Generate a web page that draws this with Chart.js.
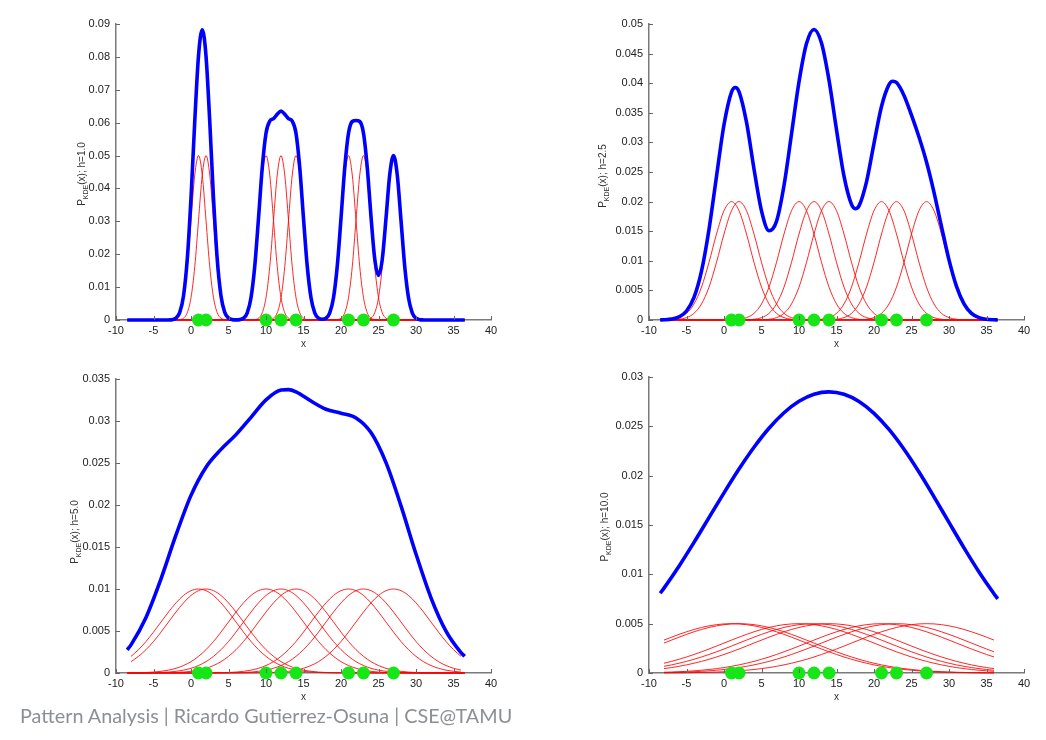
<!DOCTYPE html>
<html>
<head>
<meta charset="utf-8">
<script src="https://cdn.jsdelivr.net/npm/chart.js@4.4.1/dist/chart.umd.min.js"></script>
<style>
  html, body { margin:0; padding:0; background:#fff; }
  body { width:1046px; height:740px; position:relative; overflow:hidden; font-family:"Liberation Sans", Arial, sans-serif; }
  canvas { position:absolute; }
  .ytitle { position:absolute; white-space:nowrap; font-size:10px; color:#333; transform:translate(-50%,-50%) rotate(-90deg); line-height:12px; }
  .ytitle sub { font-size:7px; vertical-align:-3px; }
  #footer { position:absolute; left:20px; top:703px; font-family:Lato, "Open Sans", sans-serif; font-size:20px; line-height:24px; color:#8c8f93; white-space:nowrap; transform-origin:0 0; }
</style>
</head>
<body>
<canvas id="c1"></canvas>
<canvas id="c2"></canvas>
<canvas id="c3"></canvas>
<canvas id="c4"></canvas>
<div class="ytitle" id="t1">P<sub>KDE</sub>(x); h=1.0</div>
<div class="ytitle" id="t2">P<sub>KDE</sub>(x); h=2.5</div>
<div class="ytitle" id="t3">P<sub>KDE</sub>(x); h=5.0</div>
<div class="ytitle" id="t4">P<sub>KDE</sub>(x); h=10.0</div>
<div id="footer">Pattern Analysis | Ricardo Gutierrez-Osuna | CSE@TAMU</div>
<script>
// ---------- data ----------
const samples = [1, 2, 10, 12, 14, 21, 23, 27];
const xTicks = [-10, -5, 0, 5, 10, 15, 20, 25, 30, 35, 40];
const bandwidths = ['1.0', '2.5', '5.0', '10.0'];

// h = 1.0 : summed estimate
const xBlue1 = [-8.5, -3.5, -3, -2.5, -2, -1.5, -1, -0.5, 0, 0.5, 1, 1.5, 2, 2.5, 3, 3.5, 4, 4.5, 5, 5.5, 6, 6.5, 7, 7.5, 8, 8.5, 9, 9.5, 10, 10.5, 11, 11.5, 12, 12.5, 13, 13.5, 14, 14.5, 15, 15.5, 16, 16.5, 17, 17.5, 18, 18.5, 19, 19.5, 20, 20.5, 21, 21.5, 22, 22.5, 23, 23.5, 24, 24.5, 25, 25.5, 26, 26.5, 27, 27.5, 28, 28.5, 29, 29.5, 30, 30.5, 31, 31.5, 36.5];
const yBlue1 = [0, 0, 0.00002, 0.00011, 0.00058, 0.00231, 0.00733, 0.01843, 0.0371, 0.06035, 0.08033, 0.08824, 0.08033, 0.06035, 0.0371, 0.01843, 0.00733, 0.00231, 0.00058, 0.00011, 0.00004, 0.00011, 0.00056, 0.0022, 0.00679, 0.01634, 0.03089, 0.04632, 0.05679, 0.06046, 0.06122, 0.06255, 0.06354, 0.06255, 0.06122, 0.06046, 0.05679, 0.04632, 0.03089, 0.01634, 0.00679, 0.0022, 0.00058, 0.00022, 0.00058, 0.0022, 0.00679, 0.01634, 0.03089, 0.04632, 0.05677, 0.06035, 0.06066, 0.06035, 0.05679, 0.04643, 0.03145, 0.01854, 0.01356, 0.01843, 0.03089, 0.04423, 0.05002, 0.04412, 0.03033, 0.01623, 0.00677, 0.0022, 0.00056, 0.00011, 0.00002, 0, 0];

// h = 2.5
const xBlue2 = [-8.5, -8, -7, -6, -5, -4, -3, -2, -1, 0, 1, 1.5, 2, 3, 4, 5, 6, 7, 8, 9, 10, 11, 12, 13, 14, 15, 16, 17, 17.5, 18, 19, 20, 21, 22, 22.5, 23, 24, 25, 26, 27, 28, 29, 30, 31, 32, 33, 34, 35, 36, 36.5];
const yBlue2 = [0.00002, 0.00004, 0.00015, 0.00052, 0.00152, 0.00383, 0.00827, 0.0153, 0.02426, 0.03299, 0.0385, 0.03927, 0.03859, 0.03341, 0.02551, 0.01843, 0.01507, 0.01667, 0.02273, 0.03142, 0.04023, 0.0467, 0.04908, 0.04679, 0.04051, 0.03215, 0.02431, 0.01953, 0.0188, 0.01928, 0.02334, 0.02984, 0.03607, 0.03976, 0.04033, 0.04011, 0.03794, 0.03461, 0.0309, 0.02668, 0.02157, 0.01577, 0.01016, 0.00569, 0.00274, 0.00113, 0.0004, 0.00012, 0.00003, 0.00001];

// h = 5.0
const xBlue3 = [-8.5, -8, -6, -4, -2, 0, 2, 4, 6, 8, 10, 12, 13, 14, 16, 18, 20, 22, 24, 26, 28, 30, 32, 34, 36, 36.5];
const yBlue3 = [0.00276, 0.003352, 0.006612, 0.011206, 0.016434, 0.021148, 0.024506, 0.026624, 0.02838, 0.03044, 0.032513, 0.033684, 0.033739, 0.033467, 0.032377, 0.031397, 0.030932, 0.030369, 0.028621, 0.02504, 0.019894, 0.014163, 0.008953, 0.004987, 0.002431, 0.001988];

// h = 10.0
const xBlue4 = [-8.5, -8, -6, -4, -2, 0, 2, 4, 6, 8, 10, 12, 14, 16, 18, 20, 22, 24, 26, 28, 30, 32, 34, 36, 36.5];
const yBlue4 = [0.008087, 0.008605, 0.010827, 0.013236, 0.015745, 0.018256, 0.020666, 0.022877, 0.024804, 0.026376, 0.027539, 0.028254, 0.028494, 0.028249, 0.027519, 0.02632, 0.024688, 0.022678, 0.020368, 0.017858, 0.015259, 0.012685, 0.010245, 0.008028, 0.007516];

// single-kernel profiles (height at offsets 0, step, 2*step, ... from a sample)
const kernelStep = [0.5, 1, 1, 1];
const kernel1 = [0.05, 0.0441, 0.0303, 0.0162, 0.0068, 0.0022, 0.00056, 0.00011, 0.00002];
const kernel2 = [0.02, 0.01846, 0.01452, 0.00974, 0.00556, 0.00271, 0.00112, 0.0004, 0.00012, 0.00003, 0.00001, 0];
const kernel3 = [0.01, 0.0098, 0.00923, 0.00835, 0.00726, 0.00607, 0.00487, 0.00375, 0.00278, 0.00198, 0.00135, 0.00089, 0.00056, 0.00034, 0.0002, 0.00011, 0.00006, 0.00003, 0.00002, 0.00001, 0];
const kernel4 = [0.005, 0.004975, 0.004901, 0.00478, 0.004616, 0.004413, 0.004176, 0.003914, 0.003631, 0.003335, 0.003033, 0.00273, 0.002434, 0.002148, 0.001877, 0.001623, 0.00139, 0.001179, 0.00099, 0.000822, 0.000677, 0.000551, 0.000445, 0.000355, 0.000281, 0.00022, 0.00017, 0.000131, 0.000099, 0.000075, 0.000056, 0.000041, 0.00003, 0.000022, 0.000015, 0.000011, 0.000008];

const yMax = [0.09, 0.05, 0.035, 0.03];
const yStep = [0.01, 0.005, 0.005, 0.005];
const xRange = [-8.5, 36.5];

// ---------- layout ----------
const panels = [
  { id:'c1', l:116, t:24,  r:491,  b:320, tx:84,  ty:174 },
  { id:'c2', l:649, t:24,  r:1024, b:320, tx:605, ty:176 },
  { id:'c3', l:116, t:379, r:491,  b:673, tx:77,  ty:532 },
  { id:'c4', l:649, t:377, r:1024, b:673, tx:607, ty:527 }
];
const PADL = 70, PADT = 14, PADR = 16, PADB = 40;

const pairs = (xs, ys) => xs.map((x, i) => ({ x, y: ys[i] }));

function kernelCurve(center, prof, step) {
  const n = prof.length;
  const pts = [];
  for (let k = -(n - 1); k <= n - 1; k++) {
    const x = center + k * step;
    if (x < xRange[0] || x > xRange[1]) continue;
    pts.push({ x, y: prof[Math.abs(k)] });
  }
  // profile fully decayed before the edge: carry its flat tail to the edge
  if (center - (n - 1) * step > xRange[0]) pts.unshift({ x: xRange[0], y: prof[n - 1] });
  if (center + (n - 1) * step < xRange[1]) pts.push({ x: xRange[1], y: prof[n - 1] });
  return pts;
}

const inTicks = {
  id: 'inTicks',
  afterDatasetsDraw(chart) {
    const { ctx, chartArea: a, scales: { x, y } } = chart;
    ctx.save();
    ctx.strokeStyle = '#666';
    ctx.lineWidth = 1;
    ctx.beginPath();
    x.ticks.forEach(t => { const p = Math.round(x.getPixelForValue(t.value)) + 0.5; ctx.moveTo(p, a.bottom); ctx.lineTo(p, a.bottom - 4); });
    y.ticks.forEach(t => { const p = Math.round(y.getPixelForValue(t.value)) + 0.5; ctx.moveTo(a.left, p); ctx.lineTo(a.left + 4, p); });
    ctx.stroke();
    ctx.restore();
  }
};

const blues = [pairs(xBlue1, yBlue1), pairs(xBlue2, yBlue2), pairs(xBlue3, yBlue3), pairs(xBlue4, yBlue4)];
const kernels = [kernel1, kernel2, kernel3, kernel4];

panels.forEach((p, i) => {
  const cv = document.getElementById(p.id);
  const w = (p.r - p.l) + PADL + PADR, h = (p.b - p.t) + PADT + PADB;
  cv.width = w; cv.height = h;
  cv.style.width = w + 'px'; cv.style.height = h + 'px';
  cv.style.left = (p.l - PADL) + 'px'; cv.style.top = (p.t - PADT) + 'px';

  const t = document.getElementById('t' + (i + 1));
  t.style.left = p.tx + 'px'; t.style.top = p.ty + 'px';

  const datasets = [];
  datasets.push({
    data: samples.map(s => ({ x: s, y: 0 })),
    showLine: false, pointRadius: 6.5, pointHoverRadius: 6.5,
    pointBackgroundColor: '#16e616', pointBorderColor: '#16e616', pointBorderWidth: 0, clip: false
  });
  datasets.push({
    data: blues[i], showLine: true, pointRadius: 0, borderColor: '#0000ff', borderWidth: 3.6,
    cubicInterpolationMode: 'monotone', clip: false
  });
  samples.forEach(s => {
    datasets.push({
      data: kernelCurve(s, kernels[i], kernelStep[i]), showLine: true, pointRadius: 0,
      borderColor: 'rgba(255,0,0,0.85)', borderWidth: 1, cubicInterpolationMode: 'monotone', clip: false
    });
  });

  new Chart(cv, {
    type: 'scatter',
    data: { datasets },
    plugins: [inTicks],
    options: {
      responsive: false, animation: false, devicePixelRatio: 1,
      layout: { padding: { left: 0, top: PADT, right: PADR, bottom: 0 } },
      plugins: { legend: { display: false }, tooltip: { enabled: false } },
      events: [],
      scales: {
        x: {
          type: 'linear', min: xTicks[0], max: xTicks[xTicks.length - 1],
          afterBuildTicks: sc => { sc.ticks = xTicks.map(v => ({ value: v })); },
          ticks: { autoSkip: false, padding: 4, color: '#222', font: { family: 'Liberation Sans', size: 11 }, callback: v => String(v) },
          grid: { display: true, drawOnChartArea: false, drawTicks: false },
          border: { display: true, color: '#7a7a7a', width: 1.5 },
          title: { display: true, text: 'x', color: '#333', font: { family: 'Liberation Sans', size: 10 }, padding: { top: 0, bottom: 10 } },
          afterFit: sc => { sc.height = PADB; }
        },
        y: {
          type: 'linear', min: 0, max: yMax[i],
          ticks: { stepSize: yStep[i], autoSkip: false, padding: 6, color: '#222', font: { family: 'Liberation Sans', size: 11 },
                   callback: v => String(+v.toFixed(4)) },
          grid: { display: true, drawOnChartArea: false, drawTicks: false },
          border: { display: true, color: '#7a7a7a', width: 1.5 },
          afterFit: sc => { sc.width = PADL; }
        }
      }
    }
  });
});

// fit footer to its width in the reference
const f = document.getElementById('footer');
f.style.transform = 'scaleX(' + (492 / f.scrollWidth) + ')';
</script>
</body>
</html>
